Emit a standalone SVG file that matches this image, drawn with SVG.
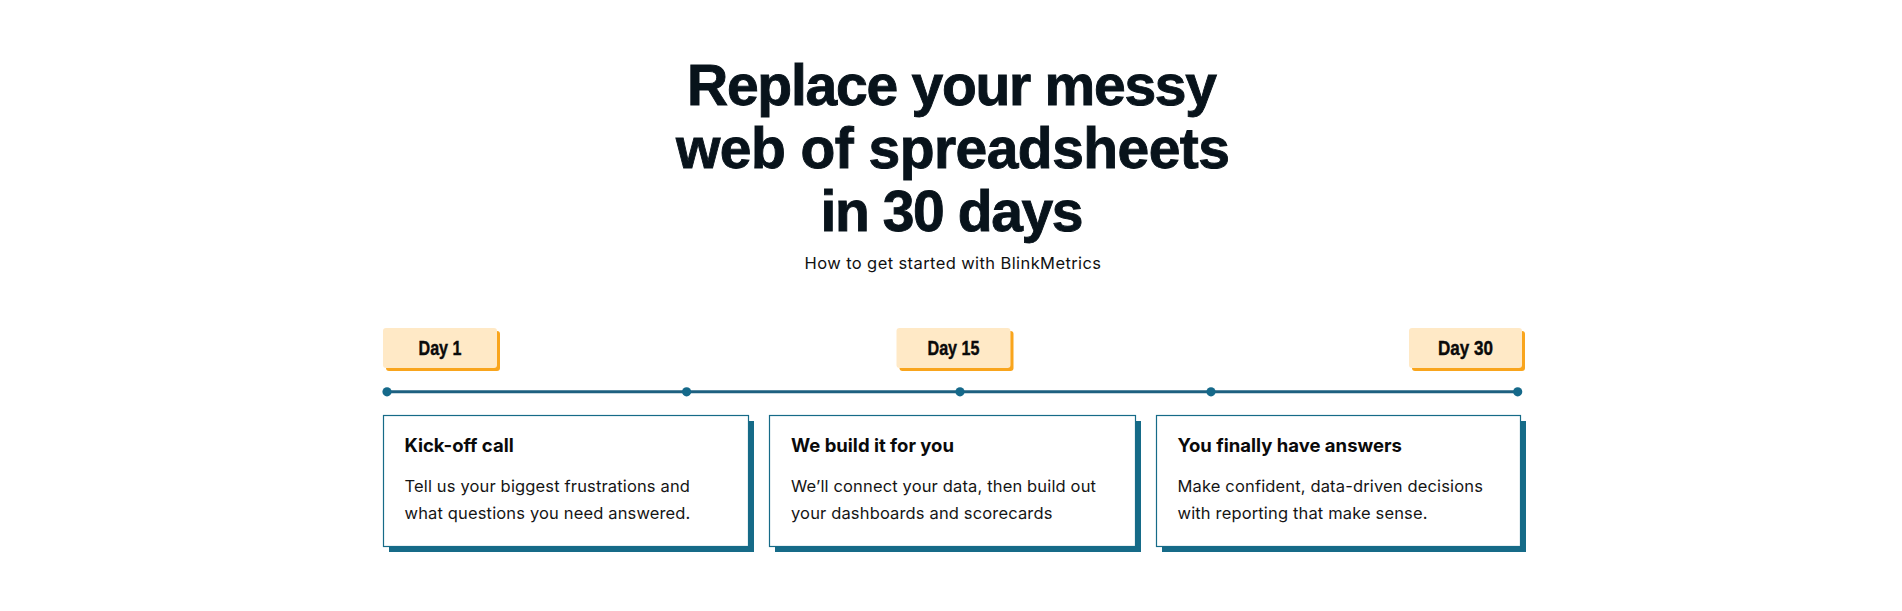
<svg xmlns="http://www.w3.org/2000/svg" width="1902" height="611" viewBox="0 0 1902 611">
  <style>
    .title { font-family: "Liberation Sans", Arial, sans-serif; font-weight: 700; font-size: 57px; fill: #08131b; stroke: #08131b; stroke-width: 0.9; text-anchor: middle; }
    .sub { font-family: Inter, "Noto Sans", sans-serif; font-size: 16.5px; letter-spacing: 0.4px; fill: #111; text-anchor: middle; }
    .badge-bg { fill: #ffe9c6; }
    .badge-sh { fill: #f9a51d; }
    .badge-t { font-family: "Liberation Sans", Arial, sans-serif; font-weight: 700; font-size: 20px; fill: #0a0a0a; stroke: #0a0a0a; stroke-width: 0.4; text-anchor: middle; }
    .card { fill: #ffffff; stroke: #166b88; stroke-width: 1.2; }
    .card-sh { fill: #166b88; }
    .ct { font-family: Inter, "Noto Sans", sans-serif; font-weight: 700; font-size: 18.5px; fill: #0a0a0a; }
    .cb { font-family: Inter, "Noto Sans", sans-serif; font-size: 16.5px; letter-spacing: 0.15px; fill: #151515; }
    .dot { fill: #15698a; }
  </style>

  <g id="heading">
    <text class="title" x="952" y="105" textLength="530" lengthAdjust="spacing">Replace your messy</text>
    <text class="title" x="953" y="168" textLength="554" lengthAdjust="spacing">web of spreadsheets</text>
    <text class="title" x="952" y="231" textLength="263" lengthAdjust="spacing">in 30 days</text>
    <text class="sub" x="953" y="269">How to get started with BlinkMetrics</text>
  </g>

  <g id="connectors">
    <line x1="387" y1="391.8" x2="1517.5" y2="391.8" stroke="#1d6080" stroke-width="3"/>
    <circle class="dot" cx="387" cy="391.8" r="4.6"/>
    <circle class="dot" cx="686.6" cy="391.8" r="4.6"/>
    <circle class="dot" cx="960" cy="391.8" r="4.6"/>
    <circle class="dot" cx="1211" cy="391.8" r="4.6"/>
    <circle class="dot" cx="1517.7" cy="391.8" r="4.6"/>
  </g>

  <g id="badge-day1">
    <rect class="badge-sh" x="386" y="331" width="114" height="40" rx="3"/>
    <rect class="badge-bg" x="383" y="328" width="114" height="40" rx="3"/>
    <text class="badge-t" x="440" y="355" textLength="43" lengthAdjust="spacingAndGlyphs">Day 1</text>
  </g>
  <g id="badge-day15">
    <rect class="badge-sh" x="899.5" y="331" width="114" height="40" rx="3"/>
    <rect class="badge-bg" x="896.5" y="328" width="114" height="40" rx="3"/>
    <text class="badge-t" x="953.5" y="355" textLength="52" lengthAdjust="spacingAndGlyphs">Day 15</text>
  </g>
  <g id="badge-day30">
    <rect class="badge-sh" x="1412" y="331" width="113" height="40" rx="3"/>
    <rect class="badge-bg" x="1409" y="328" width="113" height="40" rx="3"/>
    <text class="badge-t" x="1465.5" y="355" textLength="55" lengthAdjust="spacingAndGlyphs">Day 30</text>
  </g>

  <g id="card-kickoff">
    <rect class="card-sh" x="389" y="421" width="365" height="131"/>
    <rect class="card" x="383.5" y="415.5" width="365" height="131"/>
    <text class="ct" x="404.5" y="451.5">Kick-off call</text>
    <text class="cb" x="404.5" y="491.5">Tell us your biggest frustrations and</text>
    <text class="cb" x="404.5" y="518.5">what questions you need answered.</text>
  </g>
  <g id="card-build">
    <rect class="card-sh" x="775" y="421" width="366" height="131"/>
    <rect class="card" x="769.5" y="415.5" width="366" height="131"/>
    <text class="ct" x="791" y="451.5">We build it for you</text>
    <text class="cb" x="791" y="491.5">We’ll connect your data, then build out</text>
    <text class="cb" x="791" y="518.5">your dashboards and scorecards</text>
  </g>
  <g id="card-answers">
    <rect class="card-sh" x="1162" y="421" width="364" height="131"/>
    <rect class="card" x="1156.5" y="415.5" width="364" height="131"/>
    <text class="ct" x="1177.5" y="451.5">You finally have answers</text>
    <text class="cb" x="1177.5" y="491.5">Make confident, data-driven decisions</text>
    <text class="cb" x="1177.5" y="518.5">with reporting that make sense.</text>
  </g>
</svg>
